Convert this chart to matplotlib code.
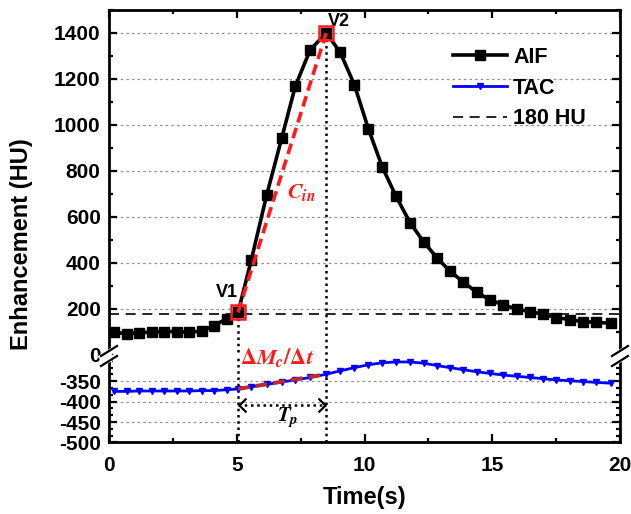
import matplotlib
matplotlib.use("Agg")
import matplotlib.pyplot as plt
from matplotlib.ticker import MultipleLocator, AutoMinorLocator
from matplotlib.lines import Line2D

# Data
time = [0.2, 0.69, 1.18, 1.67, 2.16, 2.65, 3.14, 3.63, 4.12, 4.61,
        5.05, 5.57, 6.17, 6.76, 7.29, 7.87, 8.5,
        9.04, 9.6, 10.15, 10.7, 11.23, 11.78, 12.32, 12.85, 13.35, 13.87,
        14.39, 14.9, 15.43, 15.95, 16.47, 16.99, 17.5, 18.04, 18.55, 19.08, 19.66]
aif = [98, 93, 96, 100, 102, 102, 99, 104, 128, 158,
       185, 413, 695, 943, 1168, 1326, 1400,
       1318, 1176, 984, 816, 691, 576, 491, 421, 364, 317,
       273, 240, 218, 200, 189, 177, 163, 154, 145, 142, 138]
tac = [-375, -375, -374, -374, -374, -374, -374, -373, -373, -371,
       -369, -364, -358, -352, -347, -341, -333,
       -325, -317, -310, -305, -303, -303, -306, -312, -317, -322,
       -327, -331, -335, -338, -341, -344, -347, -349, -351, -353, -355]
i_v1 = 10   # V1 index
i_v2 = 16   # V2 index
threshold = 180
tp_level = -408

plt.rcParams["font.family"] = ["Liberation Sans", "DejaVu Sans"]
plt.rcParams["font.weight"] = "bold"
plt.rcParams["axes.labelweight"] = "bold"
plt.rcParams["axes.unicode_minus"] = False
plt.rcParams["mathtext.fontset"] = "stix"

fig = plt.figure(figsize=(6.31, 5.14), dpi=100)
ax_top = fig.add_axes([0.17274, 0.30934, 0.80983, 0.67121])
ax_bot = fig.add_axes([0.17274, 0.13911, 0.80983, 0.17023], sharex=ax_top)

t1, t2 = time[i_v1], time[i_v2]

# grid lines
for v in range(200, 1401, 200):
    ax_top.axhline(v, color="#909090", lw=0.9, ls=(0, (2, 2.5)), zorder=0)
for v in [-450, -400, -350]:
    ax_bot.axhline(v, color="#909090", lw=0.9, ls=(0, (2, 2.5)), zorder=0)

# curves
aif_line, = ax_top.plot(time, aif, color="black", lw=2.6, marker="s", ms=6.5, label="AIF", zorder=3)
thr_line = ax_top.axhline(threshold, color="black", lw=1.2, ls=(0, (6, 4)), label="180 HU", zorder=2)
tac_line, = ax_bot.plot(time, tac, color="blue", lw=2.0, marker="v", ms=4, label="TAC", zorder=3)

# vertical dotted lines at V1 and V2
ax_top.plot([t1, t1], [aif[i_v1], 0], color="black", lw=1.8, ls=(0, (1, 1.5)), zorder=2)
ax_top.plot([t2, t2], [aif[i_v2], 0], color="black", lw=1.8, ls=(0, (1, 1.5)), zorder=2)
ax_bot.axvline(t1, color="black", lw=1.8, ls=(0, (1, 1.5)), zorder=2)
ax_bot.axvline(t2, color="black", lw=1.8, ls=(0, (1, 1.5)), zorder=2)

# C_in slope and V markers
ax_top.plot([t1, t2], [aif[i_v1], aif[i_v2]], color="#ff1a1a", lw=2.6, ls=(0, (3, 1.6)), zorder=4)
ax_top.plot([t1, t2], [aif[i_v1], aif[i_v2]], ls="none", marker="s", ms=9.5,
            mfc="none", mec="#ff1a1a", mew=1.8, zorder=5)
ax_top.text(t1 - 0.45, 272, "V1", fontsize=13, ha="center", va="center")
ax_top.text(t2 + 0.5, 1452, "V2", fontsize=13, ha="center", va="center")
ax_top.text(6.97, 683, r"$\boldsymbol{C_{in}}$", color="#ff1a1a", fontsize=16,
            ha="left", va="baseline")

# TAC slope
ax_bot.plot([t1, t2], [tac[i_v1], tac[i_v2]], color="#c0282a", lw=2.8, ls=(0, (3, 1.6)), zorder=4)
ax_bot.text(5.13, -309, r"$\boldsymbol{\Delta M_c/\Delta t}$", color="#ff1a1a", fontsize=16,
            ha="left", va="baseline", clip_on=False, zorder=6)

# T_p arrow
ax_bot.plot([t1, t2], [tp_level, tp_level], color="black", lw=1.8, ls=(0, (1, 1.5)))
ax_bot.plot([t1 + 0.05], [tp_level], ls="none", marker=[(1, 1), (0, 0), (1, -1)],
            ms=10, mfc="none", mec="black", mew=1.6)
ax_bot.plot([t2 - 0.05], [tp_level], ls="none", marker=[(-1, 1), (0, 0), (-1, -1)],
            ms=10, mfc="none", mec="black", mew=1.6)
ax_bot.text(6.58, -451, r"$\boldsymbol{T_p}$", color="black", fontsize=15, ha="left", va="baseline")

# axes limits and ticks
ax_top.set_xlim(0, 20)
ax_top.set_ylim(0, 1500)
ax_bot.set_ylim(-500, -286)
ax_top.set_yticks(range(0, 1401, 200))
ax_bot.set_yticks([-500, -450, -400, -350])
ax_bot.set_xticks([0, 5, 10, 15, 20])
ax_top.xaxis.set_minor_locator(MultipleLocator(2.5))
ax_top.yaxis.set_minor_locator(MultipleLocator(100))
ax_bot.yaxis.set_minor_locator(AutoMinorLocator(3))

for ax in (ax_top, ax_bot):
    for s in ax.spines.values():
        s.set_linewidth(2.0)
    ax.tick_params(which="both", direction="in", width=1.6, labelsize=15, right=True)
    ax.tick_params(which="major", length=5.5)
    ax.tick_params(which="minor", length=3)
    ax.tick_params(axis="y", pad=6)

ax_top.spines["bottom"].set_visible(False)
ax_bot.spines["top"].set_visible(False)
ax_top.tick_params(axis="x", which="both", top=True, bottom=False, labelbottom=False)
ax_bot.tick_params(axis="x", which="both", top=False, bottom=True, pad=10)

ax_bot.set_xlabel("Time(s)", fontsize=17, labelpad=8)
ax_top.set_ylabel("Enhancement (HU)", fontsize=17)
ax_top.yaxis.set_label_coords(33 / 631, 1 - 244 / 514, transform=fig.transFigure)

# legend
leg = ax_top.legend([aif_line, tac_line, thr_line], ["AIF", "TAC", "180 HU"],
                    loc="upper left", bbox_to_anchor=(0.673, 0.893), frameon=False,
                    fontsize=15.5, handlelength=2.5, handletextpad=0.3,
                    labelspacing=0.45, borderpad=0, borderaxespad=0, numpoints=1)

# axis break marks
W, H = 631, 514
for x in (109, 620):
    for y in (352, 360):
        fig.add_artist(Line2D([(x - 8) / W, (x + 8) / W], [1 - (y + 5) / H, 1 - (y - 5) / H],
                              color="white", lw=3.5, transform=fig.transFigure))
    fig.add_artist(Line2D([x / W, x / W], [1 - 359 / H, 1 - 353 / H],
                          color="white", lw=3.5, transform=fig.transFigure))
    for y in (351, 361):
        fig.add_artist(Line2D([(x - 8) / W, (x + 8) / W], [1 - (y + 5) / H, 1 - (y - 5) / H],
                              color="black", lw=1.6, transform=fig.transFigure))

fig.savefig("out.png", dpi=100)
